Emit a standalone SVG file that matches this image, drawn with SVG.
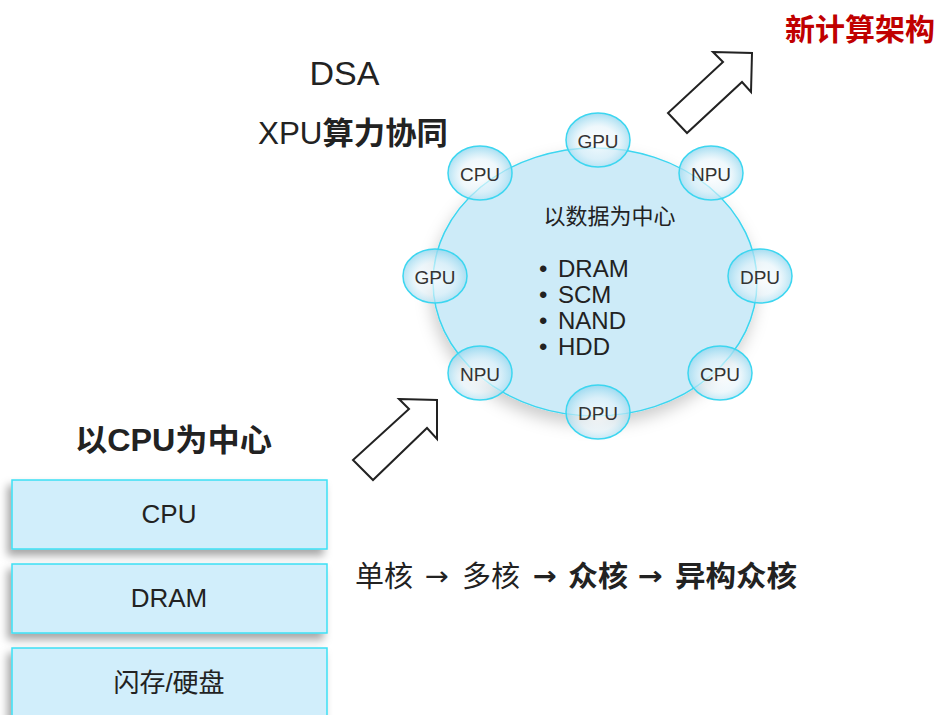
<svg xmlns="http://www.w3.org/2000/svg" width="938" height="715" viewBox="0 0 938 715">
<defs>
<style>
text{font-family:"Liberation Sans","Noto Sans CJK SC",sans-serif;fill:#222;}
.box{fill:#D1EEFB;stroke:#3DE0F5;stroke-width:1.5;}
.bt{font-size:26px;text-anchor:middle;dominant-baseline:central;}
.sm{fill:url(#glass);stroke:#3CD6F0;stroke-width:1.5;}
.st{font-size:19px;text-anchor:middle;dominant-baseline:central;fill:#333;}
.arr{fill:#fff;stroke:#222;stroke-width:2;stroke-linejoin:miter;}
.li{font-size:24px;dominant-baseline:central;}
.pr{font-size:29px;}
.ar{font-family:"DejaVu Sans",sans-serif;font-size:26px;font-weight:bold;}
</style>
<radialGradient id="glass" cx="50%" cy="55%" r="55%">
<stop offset="0" stop-color="#ffffff" stop-opacity="0.75"/>
<stop offset="0.55" stop-color="#e4f3fa" stop-opacity="0.6"/>
<stop offset="1" stop-color="#8fd5ee" stop-opacity="0.8"/>
</radialGradient>
<filter id="sh" x="-20%" y="-20%" width="140%" height="150%">
<feDropShadow dx="-4" dy="6" stdDeviation="4" flood-color="#000" flood-opacity="0.35"/>
</filter>
<filter id="esh" x="-20%" y="-20%" width="140%" height="150%">
<feDropShadow dx="-2" dy="8" stdDeviation="8" flood-color="#000" flood-opacity="0.2"/>
</filter>
</defs>
<rect width="938" height="715" fill="#fff"/>

<text x="344.5" y="85" font-size="34" text-anchor="middle">DSA</text>
<text x="258" y="144" font-size="31" textLength="190" lengthAdjust="spacingAndGlyphs">XPU<tspan font-weight="bold">算力协同</tspan></text>
<text x="785" y="40" font-size="30" font-weight="bold" textLength="150" lengthAdjust="spacingAndGlyphs" style="fill:#C00000">新计算架构</text>
<text x="75" y="451" font-size="31" font-weight="bold" textLength="197" lengthAdjust="spacingAndGlyphs">以CPU为中心</text>

<g id="center">
<ellipse cx="595" cy="282" rx="162" ry="134" fill="#CDEBF8" stroke="#3CD6F0" stroke-width="1.5" filter="url(#esh)"/>
<text x="609.5" y="216" font-size="22" text-anchor="middle" dominant-baseline="central">以数据为中心</text>
<text class="li" x="539" y="268">•</text><text class="li" x="558" y="268">DRAM</text>
<text class="li" x="539" y="294">•</text><text class="li" x="558" y="294">SCM</text>
<text class="li" x="539" y="320">•</text><text class="li" x="558" y="320">NAND</text>
<text class="li" x="539" y="346">•</text><text class="li" x="558" y="346">HDD</text>
</g>

<g id="n-gpu-top"><ellipse class="sm" cx="598" cy="140" rx="32" ry="27"/><text class="st" x="598" y="141">GPU</text></g>
<g id="n-cpu-tl"><ellipse class="sm" cx="480" cy="173" rx="32" ry="27"/><text class="st" x="480" y="174">CPU</text></g>
<g id="n-npu-tr"><ellipse class="sm" cx="711" cy="173" rx="32" ry="27"/><text class="st" x="711" y="174">NPU</text></g>
<g id="n-gpu-l"><ellipse class="sm" cx="435" cy="276" rx="32" ry="27"/><text class="st" x="435" y="277">GPU</text></g>
<g id="n-dpu-r"><ellipse class="sm" cx="760" cy="276" rx="32" ry="27"/><text class="st" x="760" y="277">DPU</text></g>
<g id="n-npu-bl"><ellipse class="sm" cx="480" cy="373" rx="32" ry="27"/><text class="st" x="480" y="374">NPU</text></g>
<g id="n-cpu-br"><ellipse class="sm" cx="720" cy="373" rx="32" ry="27"/><text class="st" x="720" y="374">CPU</text></g>
<g id="n-dpu-b"><ellipse class="sm" cx="598" cy="412" rx="32" ry="27"/><text class="st" x="598" y="413">DPU</text></g>

<g id="connectors">
<polygon class="arr" points="399,399 437,400 437,439 427,428 373,480 353,460 409,409"/>
<polygon class="arr" points="713,52 752,53 751,92 742,82 687,133 668,113 723,62"/>
</g>

<g id="box-cpu"><rect class="box" x="12" y="480" width="315" height="69" filter="url(#sh)"/><text class="bt" x="169" y="514">CPU</text></g>
<g id="box-dram"><rect class="box" x="12" y="564" width="315" height="69" filter="url(#sh)"/><text class="bt" x="169" y="598">DRAM</text></g>
<g id="box-flash"><rect class="box" x="12" y="648" width="315" height="80" filter="url(#sh)"/><text class="bt" x="169" y="683" font-size="23">闪存/硬盘</text></g>

<g id="evolution">
<text class="pr" x="355" y="587" textLength="58" lengthAdjust="spacingAndGlyphs">单核</text>
<text class="ar" x="425" y="585" font-weight="normal" style="font-weight:normal" textLength="24" lengthAdjust="spacingAndGlyphs">→</text>
<text class="pr" x="462" y="587" textLength="58" lengthAdjust="spacingAndGlyphs">多核</text>
<text class="ar" x="533" y="585" textLength="24" lengthAdjust="spacingAndGlyphs">→</text>
<text class="pr" x="568" y="587" font-weight="bold" textLength="60" lengthAdjust="spacingAndGlyphs">众核</text>
<text class="ar" x="638" y="585" textLength="25" lengthAdjust="spacingAndGlyphs">→</text>
<text class="pr" x="675" y="587" font-weight="bold" textLength="122" lengthAdjust="spacingAndGlyphs">异构众核</text>
</g>
</svg>
